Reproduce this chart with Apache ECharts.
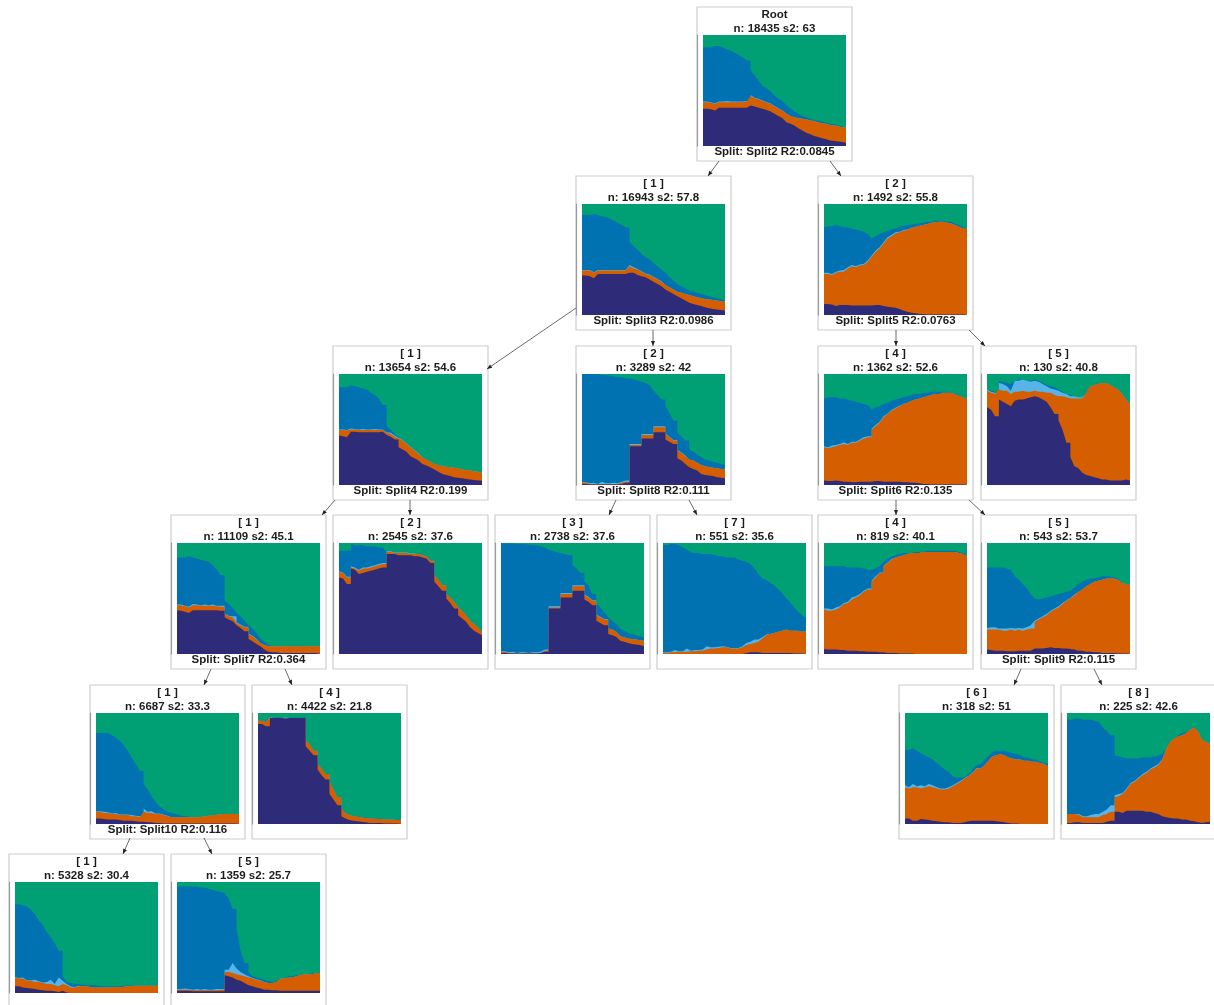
<!DOCTYPE html>
<html><head><meta charset="utf-8">
<style>html,body{margin:0;padding:0;background:#fff}#c{width:1214px;height:1005px;filter:blur(0.45px)}</style>
<script src="https://cdn.jsdelivr.net/npm/echarts@6/dist/echarts.min.js"></script></head>
<body><div id="c"></div>
<script>
// Colours of the five sequence states
const colGreen='#00A074',colBlue='#0072B2',colSky='#56B4E9',colOrange='#D55E00',colNavy='#2E2C78';
// Month index of the chronogram columns
const months=[0,1,2,3,4,5,6,7,8,9,10,11,12,13,14,15,16,17,18,19,20,21,22,23,24,25,26,27,28,29,30,31,32,33,34,35,36];
// Months at which the distributions jump sharply
const jumpMonths=[3,12,15,18,21,24,27,30];
const fullShare=[100,100,100,100,100,100,100,100,100,100,100,100,100,100,100,100,100,100,100,100,100,100,100,100,100,100,100,100,100,100,100,100,100,100,100,100,100];
// Upper edge (cumulative %) of each band; "sky" arrays hold the thickness of the thin light band
const rootBlue=[89,89,89,90,90,89,87,86,84,82,80,77,68,63.5,59,54,52,49,45.5,42.5,40.5,37,34,31,29,27,26,24.5,23.5,23,22,21,20,19.5,18.5,17.5,17];
const rootOrange=[39.5,39.5,39,38,39.5,39.5,39.5,39.5,39.5,39.5,39.5,40,45,43,42,40.5,39,38,35.5,33.5,32,29,27,26,25,24.5,24,23,22.5,21.5,20.5,20,19,18.5,18,17,16.8];
const rootNavy=[33.5,33.5,33,32,34.5,34.5,34.5,34.5,34.5,34.5,34.5,34.5,36.5,35.5,34.5,33.5,32.5,31,29,27,25,21.5,20,18.5,16,14,12,10.5,9,8,7,6,5,4.5,4,3.5,3];
const rootSky=[.5,.5,.5,.5,.5,.5,1,.5,.5,.5,.5,.5,1,.5,.5,.5,.5,.5,.5,.5,0,0,0,0,0,0,0,0,0,0,0,0,0,0,0,0,0];
const a1Blue=[90,90,90,91,90,89,88,87,85,83,81,79,66,62,59,55,52,50,47,44,41,38,34,31,28,26,24,22,21,20,19,18,17,16,15,14,13];
const a1Orange=[40,40,40,38,40,40,40,40,40,40,40,40,44,42,41,39,37,36,34,32,30,27,25,23,21,20,19,18,17,16,15,14.5,14,13.5,13,12.5,12];
const a1Navy=[35.5,35.5,35,33,37,37,37,37,37,37,37,37,38,38,36,35,34,32,30,28,26,23,21,19,17,15,13,11,10,9,8,7,6,5.5,5,4.5,4];
const a1Sky=[.5,.5,.5,.5,.5,.5,.5,.5,.5,.5,.5,.5,1,1,.5,.5,.5,.5,.5,.5,.5,0,0,0,0,0,0,0,0,0,0,0,0,0,0,0,0];
const a2Blue=[79,80,80,81,80,79,79,78,77,76,75,73,69,71,73,74.5,76,77,78,79.5,80.5,81,81.5,82,82.5,83,84,84,85,85,85,84,84,82,81,79,78];
const a2Orange=[37,37,36,38,39,39,42,44,43,44.5,45,48,52.5,57,60,64.5,69,71,73.5,74.5,76,76.5,78.5,79.5,80.5,81,82,83,83.5,84,84,83,82.5,81,79.5,78,77.5];
const a2Navy=[10,10,9.5,8,9,9,9,8.5,8.5,8.5,8.5,8.5,8.5,9,9,8,7.5,7,6.5,5.5,4,3,2,1.5,1,1,.5,.5,.5,.5,.5,.5,.5,.5,.5,.5,.5];
const a2Sky=[1,1,1,1,1,1.5,1,1,1,1,1,1,1,1,1,1,1,1,1,.5,.5,.5,0,0,0,0,0,0,0,0,0,0,0,0,0,0,0];
const b1Blue=[88,88,88,90,89,88,87,86,83,81,78,72,53,50,46,43,40,37,34.5,31,28,25,23,21,17,16,15.5,15,14.5,14,13.5,13,12.5,12,11.5,11,10.5];
const b1Orange=[49.5,49.5,49,50,50,49.5,49.5,49.5,49.5,49.5,49.5,49.5,47,46,43.5,42,40,37,34,31,28,25,23,21,19,18,17,16.5,16,15.5,15,14,13.5,13,12.5,12,10.5];
const b1Navy=[44.5,44,43,48,48,47.5,47.5,47.5,47.5,47.5,47.5,48,45,43.5,41,34,32,30,26,24,22,19,17.5,16,14,12,10,9,8,7,6.5,6,5.5,5,4.5,4,4];
const b1Sky=[.5,.5,.5,1,.5,.5,1,.5,.5,1,.5,.5,.5,1,1,.5,.5,.5,.5,.5,.5,0,0,0,0,0,0,0,0,0,0,0,0,0,0,0,0];
const b2Blue=[100,100,100,100,100,99,99,98.5,98,97,97,96,96,95,94,93,92,90,85,81,77,71,65,58,47,44,40,32,30,28,25,23,22,21,20,19,18];
const b2Orange=[2,2,1,1,.5,1,1,1,1,1,2,3,36,36,36,45,45,45,52,52,52,46,43,40,31,29,26,23,22,20,18,17,16,15.5,15,14.5,14];
const b2Navy=[1,1,.5,.5,.5,.5,.5,.5,.5,.5,1,2,35,35,35,42,42,42,47.5,47.5,47.5,41,39,37,24,22,19,16,14.5,13,10,9,8.5,8,7,6.5,6];
const b2Sky=[.5,.5,.5,1,.5,2,.5,.5,1,.5,1,1,1,1,1,1,1,1,1,1,1,.5,.5,.5,.5,.5,.5,0,0,0,0,0,0,0,0,0,0];
const b4Blue=[78,79,79,79,78,78,77,76,75,74,73,72,68,70,71,73,74,76,77,78,79,80,81,82,82,83,83,84,84,84,84,84,83.5,82,81,79,78];
const b4Orange=[34,33,34,35,36,37,36,38,38,40,42,43,50,53,56,61,64,67,69,71,73,74,76,77,78,79,80,81,82,82,83,83,83,81.5,80.5,79,77.5];
const b4Navy=[4,3.5,3.5,4,3.5,3,3,2.5,2.5,3,3,3,3,3.5,3.5,3,3,3,3,3,2.5,2.5,2,2,1.5,1,1,.5,.5,.5,.5,.5,.5,.5,.5,.5,.5];
const b4Sky=[1,1,1.5,1,1,1.5,1,1,1,1,1,1,1,1,1,1,.5,.5,.5,.5,0,0,0,0,0,0,0,0,0,0,0,0,0,0,0,0,0];
const b5Blue=[86,85,84,94,93,92,91,94,95,95,94,94,95,94,92,90,89,88,86,84,82,81,80,79,79,84,89,90,91,92,92,90,88,86,82,77,73];
const b5Orange=[85,83,82,86,85,85,82,84,84,85,84,84,85,84,84,83,83,81,80,80,79,78,78,78,78,83,89,90,91,92,92,90,88,86,82,77,73];
const b5Navy=[70,68,62,77,75,73,71,76,77,77,78,79,80,79,77,75,70,64,58,50,38,25,17,15,11,9,8,7,6,5,5,4,4,4,4,5,4];
const b5Sky=[1,1,1,6,6,4,3,10,10,10,10,9,9,9,7,6,4,5,5,3,3,2,2,1,1,0,0,0,0,0,0,0,0,0,0,0,0];
const c1Blue=[87,87,87,88,87,86,85,84,83,80,76,71,48,45,42,37,34,30,26,23,19,14,11,8,7,7,7,7,7,7,7,7,7,7,7,7,7];
const c1Orange=[44,44,43,42,44,44,43.5,43.5,43.5,43.5,43,42.5,36,34,33,28,26,24,18,16,13,10,8,7,7,7,7,7,7,7,7,7,7,7,7,7,7];
const c1Navy=[39.5,39,38,37,39.5,39.5,39.5,39.5,39.5,39.5,39.5,39,33,31,29.5,26,23.5,20.5,13.5,11.5,9,7,4,2,1.5,1.5,1,1,1,1,1,1,1,1,1,1,1];
const c1Sky=[.5,.5,.5,.5,1,.5,.5,1,.5,1,.5,1,.5,.5,1,.5,.5,.5,.5,.5,.5,0,0,0,0,0,0,0,0,0,0,0,0,0,0,0,0];
const c2Blue=[93,93,93,99,98,98,98,97,97,97,96,96,92,92,91,91,91,91,90,90,90,89,88,84,71,67,62,54,51,47,42,39,35,30,27,24,19];
const c2Orange=[74,73,69,78,77,75,77,77,78,79,80,81,92,92,91,91,91,91,90,90,90,89,88,84,71,67,62,54,51,47,42,39,35,30,27,24,19];
const c2Navy=[69,68,63,77,76,72,73,74,75,76,77,78,90,90,90,89,89,89,89,88,88,87,86,82,65,61,57,50,46,41,35,32,29,24,21,19,17];
const c2Sky=[.5,.5,.5,1,1,1,1,1,1,1,1,1,.5,.5,.5,.5,.5,.5,.5,.5,0,0,0,0,0,0,0,0,0,0,0,0,0,0,0,0,0];
const c3Blue=[100,99.5,99.5,99.5,99,99,99,98.5,98.5,98,97,96,94,93,92,91,90,89,80,77,73,65,62,54,46,42,38,33,30,27,23,21,19,18,17,16,15];
const c3Orange=[2,2,1,1,.5,.5,1,.5,1,.5,1,3,42,42,42,54,54,54,61,61,61,53,51,48,35,33,31,23,22,20,16,15,14,13.5,13,12.5,12];
const c3Navy=[1,1,.5,.5,.5,.5,.5,.5,.5,.5,1,2,41,41,41,51,51,51,57,57,57,49,47,44,30,28,26,18,17,15.5,12,11,10,9,8.5,8,7];
const c3Sky=[.5,.5,.5,1,.5,1,.5,.5,.5,1,1,1,1,1,1,1,1,1,1,1,1,.5,.5,.5,.5,.5,.5,0,0,0,0,0,0,0,0,0,0];
const c7Blue=[98,98,99,99,98,96,94,92,91,91,90,90,90,89,88,88,87,87,87,85,84,83,81,77,72,68,67,64,62,58,55,50,47,42,38,35,33];
const c7Orange=[1,1,1.5,1.5,2,2,2,2.5,2.5,3,3,4,5,5,5.5,6,6,5,5,5,6,8,9,10,11,14,17,18,19,20,21,22,21,21,21,20,21];
const c7Navy=[0,0,0,0,0,0,0,0,0,0,0,0,0,0,0,0,0,0,0,0,0,1,1.5,1.5,1.5,1,1,1,1,1,1,1,1,.5,.5,.5,1];
const c7Sky=[.5,.5,.5,2,.5,.5,3,.5,1,.5,1,3,1,1,1,1,.5,.5,.5,.5,1,2,2,3,2,1,.5,0,0,0,0,0,0,0,0,0,0];
const c4Blue=[79,79,79,79,79,79,78,78,78,78,77,76,76,77,79,83,86,88,89,90,91,91,91,92,92,92,93,93,93,93,93,93,93,93,92,91,89];
const c4Orange=[40,39,39,40,42,45,46,49,51,53,56,58,65,69,73,79,82,85,87,88,89,90,91,91,91,92,92,92,92,92,92,92,92,92,91,90,88];
const c4Navy=[4.5,4,4,4,3.5,3.5,3,3,3,2.5,2.5,2,2,2,1.5,1.5,1,1,1,.5,.5,.5,.5,0,0,0,0,0,0,0,0,0,0,0,0,0,0];
const c4Sky=[1,2,1,2,1,1,1,2,1,1,1,1,1,1,.5,.5,.5,.5,0,0,0,0,0,0,0,0,0,0,0,0,0,0,0,0,0,0,0];
const c5Blue=[78,78,78,78,78,77,76,70,67,63,59,54,50,49,50,51,52,53,54,55,56,57,60,63,65,67,68,68,69,70,70,70,69,68,64,63,62];
const c5Orange=[22,22,22,22,21,21,22,21,22,21,22,23,29,31,33,35,38,40,42,45,48,50,53,56,58,61,63,65,66,67,68,68,68,67,64,63,62];
const c5Navy=[4,3.5,3,3,3,2.5,2.5,2.5,3,3,3,3,5,5,5,5.5,6,5.5,5.5,5,5,4.5,4,3,3,2,2,1.5,1.5,1,1,1,1,.5,.5,.5,.5];
const c5Sky=[1.5,2,2,1,2,2,1.5,2,1.5,2,2,3,1,1,1,1,1,1,1,1,.5,.5,.5,0,0,0,0,0,0,0,0,0,0,0,0,0,0];
const d1Blue=[82,82,82,82,80,78,75,71,66,60,54,48,36,31,25,20,16,13,11,10,9,8,7,7,6,6,6,7,7,8,8,8.5,9,9,9,9,9];
const d1Orange=[11,11,10,10,9,9,8,8,8,7,7,6,11,10,10,9,9,8,7,6,6,6,6,6,6,6,6,7,7,8,8,8.5,9,9,9,9,9];
const d1Navy=[5,5,4.5,4,4,4,3.5,3,3,3,2.5,2,2,1.5,1.5,1,1,.5,.5,.5,.5,.5,.5,.5,.5,.5,.5,.5,.5,.5,.5,.5,.5,.5,.5,.5,.5];
const d1Sky=[.5,.5,1,.5,.5,1,.5,.5,.5,1,.5,1,3,1,1.5,.5,.5,.5,.5,0,0,0,0,0,0,0,0,0,0,0,0,0,0,0,0,0,0];
const d4Blue=[93.3,93.3,92.3,96.3,95.8,95.8,95.8,95.3,95.8,95.8,95.8,95.8,75.3,72.3,66.3,54.3,50.3,45.3,38.3,31.3,24.3,14.3,10.3,8.3,7.3,6.8,6.3,5.8,5.3,5.3,4.8,4.8,4.3,4.3,4.3,3.8,3.8];
const d4Orange=[93,93,92,96,95.5,95.5,95.5,95,95.5,95.5,95.5,95.5,75,72,66,54,50,45,38,31,24,14,10,8,7,6.5,6,5.5,5,5,4.5,4.5,4,4,4,3.5,3.5];
const d4Navy=[90,90,88,95.5,95.5,95.5,95.5,95,95.5,95.5,95.5,95.5,70,66,62,49,44,40,27,22,17,7,5,3.5,3,2.5,2,1.5,1,1,1,1,.5,.5,.5,.5,.5];
const d4Sky=[0,0,0,.5,0,0,0,1,0,0,0,0,.3,0,0,0,0,0,0,0,0,0,0,0,0,0,0,0,0,0,0,0,0,0,0,0,0];
const d6Blue=[67,67,68,66,64,62,60,58,55,52,49,47,43,42,42,42,45,49,53,54,58,61,65,66,66,66,65,64,63,62,60,60,58,58,56,55,54];
const d6Orange=[33,32,33,33,32,33,34,33,32,31,31,32,34,36,38,41,43,46,50,50,53,57,61,62,63,62,60,59,58,58,57,57,56,56,55,54,52];
const d6Navy=[5,5,3,3,4.5,4,3.5,3,2.5,2,1.5,1.5,1,1,1,1.5,2.5,3,3,3,3,3,3,2.5,2,1.5,1,.5,.5,0,0,0,0,0,0,0,0];
const d6Sky=[2,1,3,1,3,1,2,2,1,1,1,1,1,1,1,.5,.5,.5,.5,0,0,0,0,0,0,0,0,0,0,0,0,0,0,0,0,0,0];
const d8Blue=[94,94,95,95,94,94,94,93,92,87,84,80,62,61,60,59,59,59,59,60,60,60,61,62,63,68,72,77,80,82,83,85,87,83,76,74,72];
const d8Orange=[9,9,9,8,6,6,6,6,6,8,9,11,24,25,27,31,36,38,41,44,46,49,51,53,58,68,74,77,79,80,82,85,87,83,76,74,72];
const d8Navy=[1,1,1.5,1.5,1,1,1,1,1,1,2,3,11,11,10,12,12,12,12,12,11,11,10,9,7,6,5.5,5,5,4,4,3,2.5,1.5,1,1.5,2];
const d8Sky=[0,0,0,1,1,1,2,3,3,3,4,6,2,2,1,1,1,1,1,1,1,1,1,1,.5,0,0,0,0,0,0,0,0,0,0,0,0];
const e1Blue=[80,80,79,78,75,71,65,61,55,50,45,38,15,10,9,8.5,8,7.5,7,7,7,6.5,6,6,6,6,6,6.5,6.5,6.5,6.5,6.5,6.5,6.5,6.5,6.5,6.5];
const e1Orange=[14,13,13,11,11,10,10,9,8,8,7,6,8,7,5,5,6,6,6,5.5,5,5,5,5,5,5.5,5.5,5.5,6,6,6.5,6.5,6.5,6.5,6.5,6.5,6.5];
const e1Navy=[6,6,5,4.5,4,3.5,3,2.5,2,2,1.5,1,2,.5,0,0,0,0,0,0,0,0,0,0,0,0,0,0,0,0,0,0,0,0,0,0,0];
const e1Sky=[.5,.5,1,.5,.5,2,.5,.5,2,4,1,8,3,1,1,.5,.5,0,0,0,0,0,0,0,0,0,0,0,0,0,0,0,0,0,0,0,0];
const e5Blue=[96,96,96,96,96,96,95,95,94,93,92,91,90,85,76,58,38,27,19,15,14,13,12,11,10,11,13,13,15,15,16,16,17,17,18,18,18];
const e5Orange=[3,3,3,3,2.5,2.5,2.5,2.5,2.5,2.5,2.5,3,19,19,18,17,16,15,14,13,12,11,10,9,9,10,13,13,14,14,15,16,17,17,17,18,18];
const e5Navy=[2,2,2,2,1.5,1.5,1.5,1.5,1.5,1.5,1.5,1.5,16,15,14,12,11,9,7,6,5,4,3,3,2.5,2.5,2,2,2,2,2,2,2,2,2,2,2];
const e5Sky=[.5,.5,1,.5,.5,1,.5,1,.5,.5,1,.5,2,2,9,5,3,2,1,.5,.5,.5,0,0,0,0,0,0,0,0,0,0,0,0,0,0,0];
// Node labels
const nodeTitles=['Root','[ 1 ]','[ 2 ]','[ 1 ]','[ 2 ]','[ 4 ]','[ 5 ]','[ 1 ]','[ 2 ]','[ 3 ]','[ 7 ]','[ 4 ]','[ 5 ]','[ 1 ]','[ 4 ]','[ 6 ]','[ 8 ]','[ 1 ]','[ 5 ]'];
const nodeStats=['n: 18435 s2: 63','n: 16943 s2: 57.8','n: 1492 s2: 55.8','n: 13654 s2: 54.6','n: 3289 s2: 42','n: 1362 s2: 52.6','n: 130 s2: 40.8','n: 11109 s2: 45.1','n: 2545 s2: 37.6','n: 2738 s2: 37.6','n: 551 s2: 35.6','n: 819 s2: 40.1','n: 543 s2: 53.7','n: 6687 s2: 33.3','n: 4422 s2: 21.8','n: 318 s2: 51','n: 225 s2: 42.6','n: 5328 s2: 30.4','n: 1359 s2: 25.7'];
const nodeSplits=['Split: Split2 R2:0.0845','Split: Split3 R2:0.0986','Split: Split5 R2:0.0763','Split: Split4 R2:0.199','Split: Split8 R2:0.111','Split: Split6 R2:0.135','','Split: Split7 R2:0.364','','','','','Split: Split9 R2:0.115','Split: Split10 R2:0.116','','','','',''];
// Tables of bands per node
const bluesByNode=[rootBlue,a1Blue,a2Blue,b1Blue,b2Blue,b4Blue,b5Blue,c1Blue,c2Blue,c3Blue,c7Blue,c4Blue,c5Blue,d1Blue,d4Blue,d6Blue,d8Blue,e1Blue,e5Blue];
const orangesByNode=[rootOrange,a1Orange,a2Orange,b1Orange,b2Orange,b4Orange,b5Orange,c1Orange,c2Orange,c3Orange,c7Orange,c4Orange,c5Orange,d1Orange,d4Orange,d6Orange,d8Orange,e1Orange,e5Orange];
const naviesByNode=[rootNavy,a1Navy,a2Navy,b1Navy,b2Navy,b4Navy,b5Navy,c1Navy,c2Navy,c3Navy,c7Navy,c4Navy,c5Navy,d1Navy,d4Navy,d6Navy,d8Navy,e1Navy,e5Navy];
const skiesByNode=[rootSky,a1Sky,a2Sky,b1Sky,b2Sky,b4Sky,b5Sky,c1Sky,c2Sky,c3Sky,c7Sky,c4Sky,c5Sky,d1Sky,d4Sky,d6Sky,d8Sky,e1Sky,e5Sky];

// Layout, in page pixels
const boxLeft=[697,576,818,333,576,818,981,171,333,495,657,818,981,90,252,899,1061,9,171];
const boxTop=[7,176,176,346,346,346,346,515,515,515,515,515,515,685,685,685,685,854,854];
const boxW=155,boxH=154,plotDX=6,plotDY=28,plotW=143,plotH=111;
const edges=[[719,161,708,176],[830,161,841,176],[576,308,487,369],[653,330,653,346],[896,330,896,346],[969,330,985,346],
[335,500,322,515],[410,500,410,515],[616,500,609,515],[689,500,697,515],[896,500,896,515],[969,500,985,515],
[211,669,204,685],[285,669,292,685],[1021,669,1014,685],[1094,669,1102,685],[130,838,123,854],[204,838,212,854]];

const grids=[],xAxes=[],yAxes=[],series=[],graphic=[];
const fontFam='"Liberation Sans",Arial,sans-serif';
function label(t,cx,cy){graphic.push({type:'text',silent:true,style:{text:t,x:cx,y:cy,align:'center',verticalAlign:'middle',font:'bold 11.5px '+fontFam,fill:'#1c1c1c'}});}
// [month, share] pairs; only a real break keeps the previous share right up to the jump month
function toPoints(values){
  const pts=[];
  months.forEach((m,k)=>{
    if(jumpMonths.includes(m)&&Math.abs(values[k]-values[k-1])>=5.5)pts.push([m-0.02,values[k-1]]);
    pts.push([m,values[k]]);
  });
  return pts;
}
function band(i,name,color,values){series.push({name,type:'line',xAxisIndex:i,yAxisIndex:i,data:toPoints(values),showSymbol:false,silent:true,lineStyle:{width:0},areaStyle:{color,opacity:1,origin:'start'},animation:false});}
nodeTitles.forEach((title,i)=>{
  const L=boxLeft[i],T=boxTop[i];
  grids.push({left:L+plotDX,top:T+plotDY,width:plotW,height:plotH});
  xAxes.push({gridIndex:i,type:'value',min:months[0],max:months[months.length-1],show:false});
  yAxes.push({gridIndex:i,type:'value',min:0,max:100,offset:plotDX-0.5,splitLine:{show:false},axisLabel:{show:false},axisTick:{show:false},axisLine:{show:true,onZero:false,lineStyle:{color:'#9a9a9a',width:1.2}}});
  const skyTop=orangesByNode[i].map((v,k)=>v+skiesByNode[i][k]);
  band(i,'green',colGreen,fullShare);
  band(i,'blue',colBlue,bluesByNode[i]);
  band(i,'sky',colSky,skyTop);
  band(i,'orange',colOrange,orangesByNode[i]);
  band(i,'navy',colNavy,naviesByNode[i]);
  graphic.push({type:'rect',silent:true,shape:{x:L,y:T,width:boxW,height:boxH},style:{fill:null,stroke:'#cdcdcd',lineWidth:1.2}});
  const cx=L+boxW/2;
  label(title,cx,T+8);
  label(nodeStats[i],cx,T+21.5);
  if(nodeSplits[i])label(nodeSplits[i],cx,T+144.5);
});
edges.forEach(([x1,y1,x2,y2])=>{
  graphic.push({type:'line',silent:true,shape:{x1,y1,x2,y2},style:{stroke:'#444',lineWidth:.8}});
  const a=Math.atan2(y2-y1,x2-x1),h=5,w=2;
  const bx=x2-h*Math.cos(a),by=y2-h*Math.sin(a),nx=-Math.sin(a)*w,ny=Math.cos(a)*w;
  graphic.push({type:'polygon',silent:true,shape:{points:[[x2,y2],[bx+nx,by+ny],[bx-nx,by-ny]]},style:{fill:'#222'}});
});
const chart=echarts.init(document.getElementById('c'),null,{renderer:'canvas'});
chart.setOption({animation:false,backgroundColor:'#fff',grid:grids,xAxis:xAxes,yAxis:yAxes,series,graphic});
</script></body></html>
